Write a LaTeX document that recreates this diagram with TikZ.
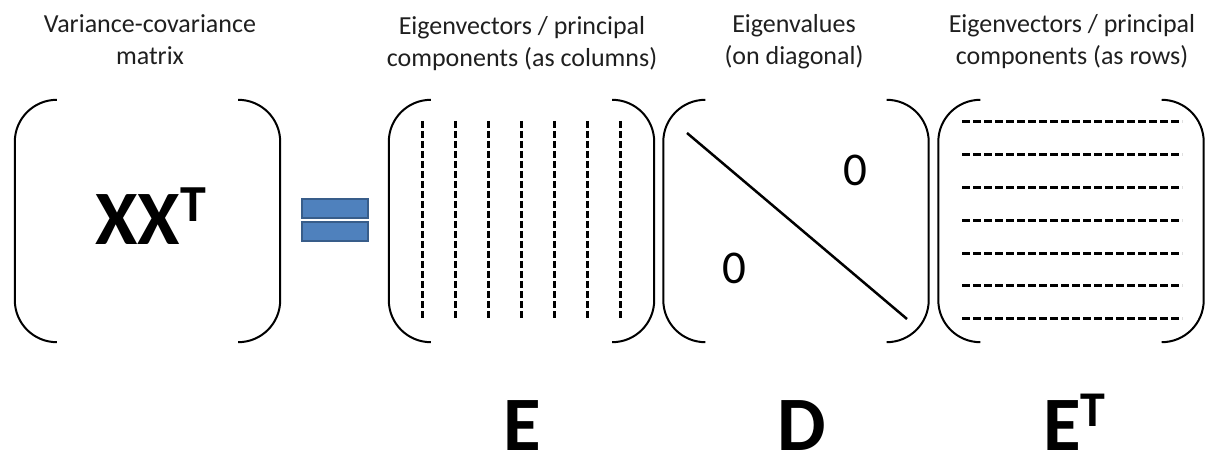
\documentclass[tikz,border=0pt]{standalone}
\usepackage{fontspec}
\setmainfont{Carlito}
\begin{document}
\begin{tikzpicture}[x=1pt,y=-1pt,
  brk/.style={line width=2pt, rounded corners=42pt},
  matbox/.style={minimum width=265pt, minimum height=242pt, inner sep=0pt, draw=none},
  title/.style={font=\fontsize{26}{32}\selectfont, align=center, anchor=base, inner sep=0pt, text=black!88},
  big/.style={font=\bfseries\fontsize{77}{77}\selectfont, inner sep=0pt},
  zero/.style={font=\fontsize{47}{47}\selectfont, inner sep=0pt},
  coldash/.style={line width=3pt, dash pattern=on 7pt off 3pt},
  rowdash/.style={line width=3pt, dash pattern=on 8pt off 3pt},
  eqbar/.style={fill=eqfill, draw=eqdraw, line width=2.5pt}]
\definecolor{eqfill}{HTML}{4F81BD}
\definecolor{eqdraw}{HTML}{385D8A}
\useasboundingbox (0,0) rectangle (1208,457);
\newcommand\mybrackets[1]{%
  \draw[brk] ([xshift=42pt]#1.north west) -- (#1.north west) -- (#1.south west) -- ([xshift=42pt]#1.south west);
  \draw[brk] ([xshift=-42pt]#1.north east) -- (#1.north east) -- (#1.south east) -- ([xshift=-42pt]#1.south east);}
% titles (anchor = baseline of the last line)
\node[title] (t1) at (150,65) {Variance-covariance\\matrix};
\node[title] (t2) at (522,67) {Eigenvectors / principal\\components (as columns)};
\node[title] (t3) at (794,65) {Eigenvalues\\(on diagonal)};
\node[title] (t4) at (1072,65) {Eigenvectors / principal\\components (as rows)};
% matrix boxes
\node[matbox] (m1) at (147.5,221) {};
\node[matbox] (m2) at (521.5,221) {};
\node[matbox] (m3) at (796,221) {};
\node[matbox] (m4) at (1071,221) {};
\mybrackets{m1}
\mybrackets{m2}
\mybrackets{m3}
\mybrackets{m4}
% XX^T
\node[big, anchor=base west] (xxt) at (95,245) {XX\raisebox{23pt}{\fontsize{52}{52}\selectfont T}};
% equals
\node[eqbar, minimum width=66pt, minimum height=19pt, inner sep=0pt] (eq1) at (335,208.5) {};
\node[eqbar, minimum width=66pt, minimum height=19pt, inner sep=0pt] (eq2) at (335,231.5) {};
% E columns
\foreach \i in {0,...,6} {
  \draw[coldash] (422+33.1*\i,121) -- (422+33.1*\i,320);
}
% D diagonal and zeros
\draw[line width=2.5pt] (687,133) -- (907,319);
\node[zero] (z1) at (855,170) {0};
\node[zero] (z2) at (734,268) {0};
% E^T rows
\foreach \j in {0,...,6} {
  \draw[rowdash] (962,122+32.8*\j) -- (1182,122+32.8*\j);
}
% bottom labels
\node[big, anchor=base] (le) at (522,450) {E};
\node[big, anchor=base] (ld) at (802,450) {D};
\node[big, anchor=base west] (let) at (1043,450) {E\raisebox{24pt}{\fontsize{50}{50}\selectfont T}};
\end{tikzpicture}
\end{document}
